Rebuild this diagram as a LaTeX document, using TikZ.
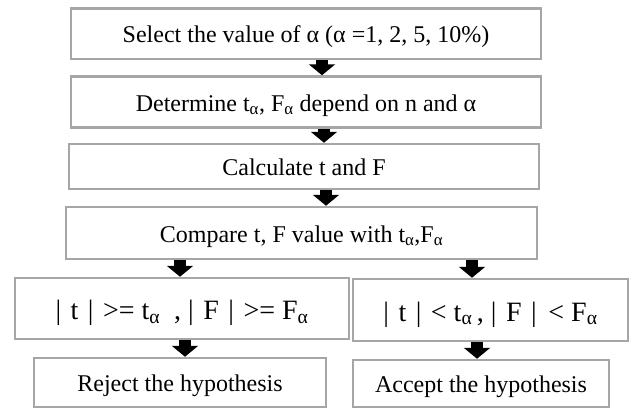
\documentclass[tikz,border=0pt]{standalone}
\usepackage{fontspec}
\setmainfont{Liberation Serif}
\usetikzlibrary{arrows.meta}
\definecolor{boxgray}{HTML}{A6A6A6}
\newcommand{\bs}{\hspace{0.34em}}
\begin{document}
\begin{tikzpicture}[x=1pt,y=-1pt,
  box/.style={draw=boxgray, line width=2.5pt, fill=white, inner sep=0pt, align=center,
    font=\fontsize{24}{28}\selectfont, text height=18pt, text depth=0pt},
  bigtext/.style={font=\fontsize{28}{32}\selectfont, text height=22pt},
  blk/.style={line width=12pt, -{Triangle[width=26pt,length=11pt]}}]
\useasboundingbox (0,0) rectangle (631,408);
\node[box, minimum width=470pt, minimum height=50.5pt] (b1) at (306,33.75) {Select the value of α (α =1, 2, 5, 10\%)};
\node[box, minimum width=470pt, minimum height=51pt] (b2) at (306,102) {Determine t\textsubscript{α}, F\textsubscript{α} depend on n and α};
\node[box, minimum width=470pt, minimum height=45pt] (b3) at (304,166.5) {Calculate t and F};
\node[box, minimum width=471pt, minimum height=52pt] (b4) at (301.5,233) {Compare t, F value with t\textsubscript{α},F\textsubscript{α}};
\node[box, bigtext, minimum width=334pt, minimum height=61pt] (b5) at (182,308.5) {|\bs t\bs |\bs >= t\textsubscript{α}\ \ , |\bs F\bs |\bs >= F\textsubscript{α}};
\node[box, bigtext, minimum width=275pt, minimum height=62pt] (b6) at (490.5,310) {|\bs t\bs |\bs < t\textsubscript{α}\,, |\bs F\bs |\ \,< F\textsubscript{α}};
\node[box, minimum width=292pt, minimum height=49pt] (b7) at (180,382.5) {Reject the hypothesis};
\node[box, minimum width=256pt, minimum height=47pt] (b8) at (481,383.5) {Accept the hypothesis};
\draw[blk] ([xshift=16pt]b1.south) -- ([xshift=16pt]b2.north);
\draw[blk] ([xshift=18pt]b2.south) -- ([xshift=20pt]b3.north);
\draw[blk] ([xshift=22pt]b3.south) -- ([xshift=24.5pt]b4.north);
\draw[blk] ([xshift=-121.5pt]b4.south) -- ([xshift=-2pt]b5.north);
\draw[blk] ([xshift=170.5pt]b4.south) -- ([xshift=-18.5pt]b6.north);
\draw[blk] ([xshift=3pt]b5.south) -- ([xshift=5pt]b7.north);
\draw[blk] ([xshift=-13.5pt]b6.south) -- ([xshift=-4pt]b8.north);
\end{tikzpicture}
\end{document}
